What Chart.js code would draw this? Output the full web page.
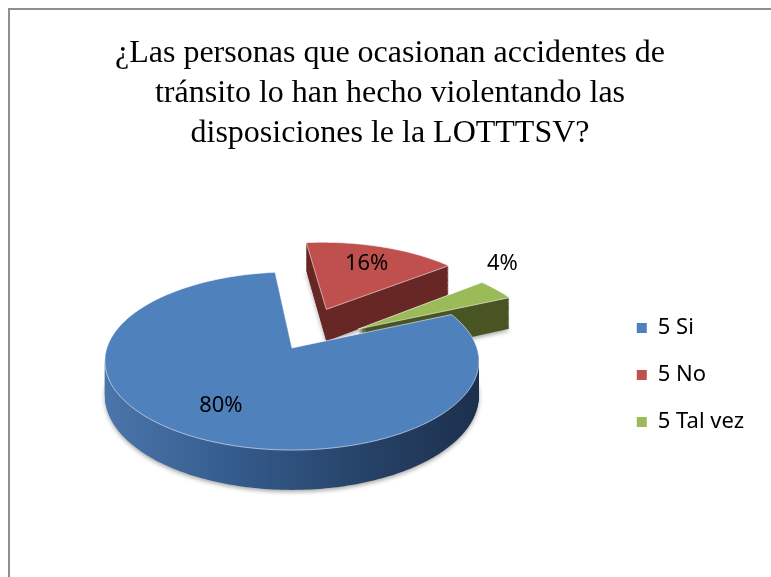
<!DOCTYPE html>
<html>
<head>
<meta charset="utf-8">
<script src="https://cdn.jsdelivr.net/npm/chart.js@4/dist/chart.umd.min.js"></script>
<style>
  html, body { margin: 0; padding: 0; background: #fff; }
  #wrap { position: relative; width: 771px; height: 577px; overflow: hidden; }
  #frame { position: absolute; left: 8px; top: 8px; width: 800px; height: 600px;
           border-left: 2px solid #8e8e8e; border-top: 2px solid #8e8e8e; pointer-events: none; }
  canvas { display: block; }
</style>
</head>
<body>
<div id="wrap">
  <canvas id="c" width="771" height="577"></canvas>
  <div id="frame"></div>
</div>
<script>
// ---- data ----
const titleLines = [
  '¿Las personas que ocasionan accidentes de',
  'tránsito lo han hecho violentando las',
  'disposiciones le la LOTTTSV?'
];
const categories = ['5 Si', '5 No', '5 Tal vez'];
const percentValues = [80, 16, 4];

// ---- style ----
const topColors = ['#4F81BD', '#C0504D', '#9BBB59'];
const sideColors = [['#4B75AA', '#355C8E', '#27446A', '#1D304D'], '#682826', '#495524'];
const explodeOffsets = [0, 95, 80];

const pie3d = {
  id: 'pie3d',
  beforeDatasetsDraw(chart, args, o) {
    const ctx = chart.ctx;
    const meta = chart.getDatasetMeta(0);
    const ds = chart.data.datasets[0];
    const total = ds.data.reduce((a, b) => a + b, 0);
    const arcs = meta.data;
    if (!arcs.length) return false;
    const cx = arcs[0].x, cy = arcs[0].y;
    const X0 = cx + o.shiftX, Y0 = cy + o.shiftY + o.depth;
    const P = (fx, fy, z) => {
      const u = fx - cx, v = fy - cy;
      const s = o.distance / (o.distance - v);
      return [X0 + u * s, Y0 + (o.tilt * v - z) * s];
    };
    const slices = arcs.map((arc, i) => {
      const p = arc.getProps(['x', 'y', 'startAngle', 'endAngle', 'outerRadius'], true);
      const off = arc.options.offset || 0;
      const mid = (p.startAngle + p.endAngle) / 2;
      const ax = p.x + Math.cos(mid) * off, ay = p.y + Math.sin(mid) * off;
      const pts = [[ax, ay]];
      const n = Math.max(2, Math.ceil((p.endAngle - p.startAngle) / (Math.PI / 180)));
      for (let j = 0; j <= n; j++) {
        const a = p.startAngle + (p.endAngle - p.startAngle) * j / n;
        pts.push([ax + Math.cos(a) * p.outerRadius, ay + Math.sin(a) * p.outerRadius]);
      }
      return { i, pts, ax, ay, mid, R: p.outerRadius };
    });
    const order = slices.slice().sort((a, b) => a.ay - b.ay);
    const path = (pts, z) => {
      ctx.beginPath();
      pts.forEach((q, j) => {
        const [x, y] = P(q[0], q[1], z);
        if (j) ctx.lineTo(x, y); else ctx.moveTo(x, y);
      });
      ctx.closePath();
    };
    ctx.save();
    for (const sl of order) {
      const side = o.sideColors[sl.i];
      let fill = side;
      if (Array.isArray(side)) {
        const g = ctx.createLinearGradient(X0 - sl.R, 0, X0 + sl.R, 0);
        side.forEach((c, k) => g.addColorStop(k / (side.length - 1), c));
        fill = g;
      }
      for (let z = 0; z < o.depth; z += 1) {
        path(sl.pts, z);
        ctx.fillStyle = fill;
        if (z === 0) {
          ctx.save();
          ctx.shadowColor = 'rgba(0,0,0,0.35)';
          ctx.shadowBlur = 4;
          ctx.shadowOffsetY = 2;
          ctx.fill();
          ctx.restore();
        } else {
          ctx.fill();
        }
      }
      path(sl.pts, o.depth);
      ctx.fillStyle = ds.backgroundColor[sl.i];
      ctx.fill();
      ctx.strokeStyle = 'rgba(255,255,255,0.55)';
      ctx.lineWidth = 1;
      ctx.stroke();
    }
    // data labels
    ctx.font = o.labelFont.size + 'px ' + o.labelFont.family;
    ctx.fillStyle = '#000';
    ctx.textAlign = 'center';
    ctx.textBaseline = 'middle';
    for (const sl of slices) {
      const val = ds.data[sl.i];
      const pct = val / total;
      const txt = Math.round(pct * 100) + '%';
      let pos;
      if (pct >= 0.05) {
        const r = 0.7 * sl.R;
        pos = P(sl.ax + Math.cos(sl.mid) * r, sl.ay + Math.sin(sl.mid) * r, o.depth);
      } else {
        const outer = P(sl.ax + Math.cos(sl.mid) * sl.R, sl.ay + Math.sin(sl.mid) * sl.R, o.depth);
        pos = [outer[0] + 6, outer[1] - 26];
      }
      ctx.fillText(txt, pos[0], pos[1]);
    }
    ctx.restore();
    return false;
  }
};

new Chart(document.getElementById('c'), {
  type: 'pie',
  data: {
    labels: categories,
    datasets: [{
      data: percentValues,
      backgroundColor: topColors,
      borderWidth: 0,
      offset: explodeOffsets,
      radius: 185
    }]
  },
  options: {
    responsive: false,
    animation: false,
    devicePixelRatio: 1,
    events: [],
    rotation: 66,
    layout: { padding: { top: 0, right: 17, bottom: 0, left: 26 } },
    plugins: {
      title: {
        display: true,
        text: titleLines,
        color: '#000',
        font: { family: "'Liberation Serif', 'Times New Roman', serif", size: 32, weight: 'normal', lineHeight: 1.25 },
        padding: { top: 34, bottom: 19 }
      },
      legend: {
        position: 'right',
        fullSize: false,
        labels: {
          boxWidth: 10,
          boxHeight: 10,
          padding: 25,
          color: '#000',
          font: { family: "'Noto Sans', sans-serif", size: 22 }
        }
      },
      tooltip: { enabled: false },
      pie3d: {
        depth: 34,
        tilt: 0.498,
        distance: 1267,
        shiftX: -27,
        shiftY: -27,
        sideColors: sideColors,
        labelFont: { family: "'Noto Sans', sans-serif", size: 22 }
      }
    }
  },
  plugins: [pie3d]
});
</script>
</body>
</html>
